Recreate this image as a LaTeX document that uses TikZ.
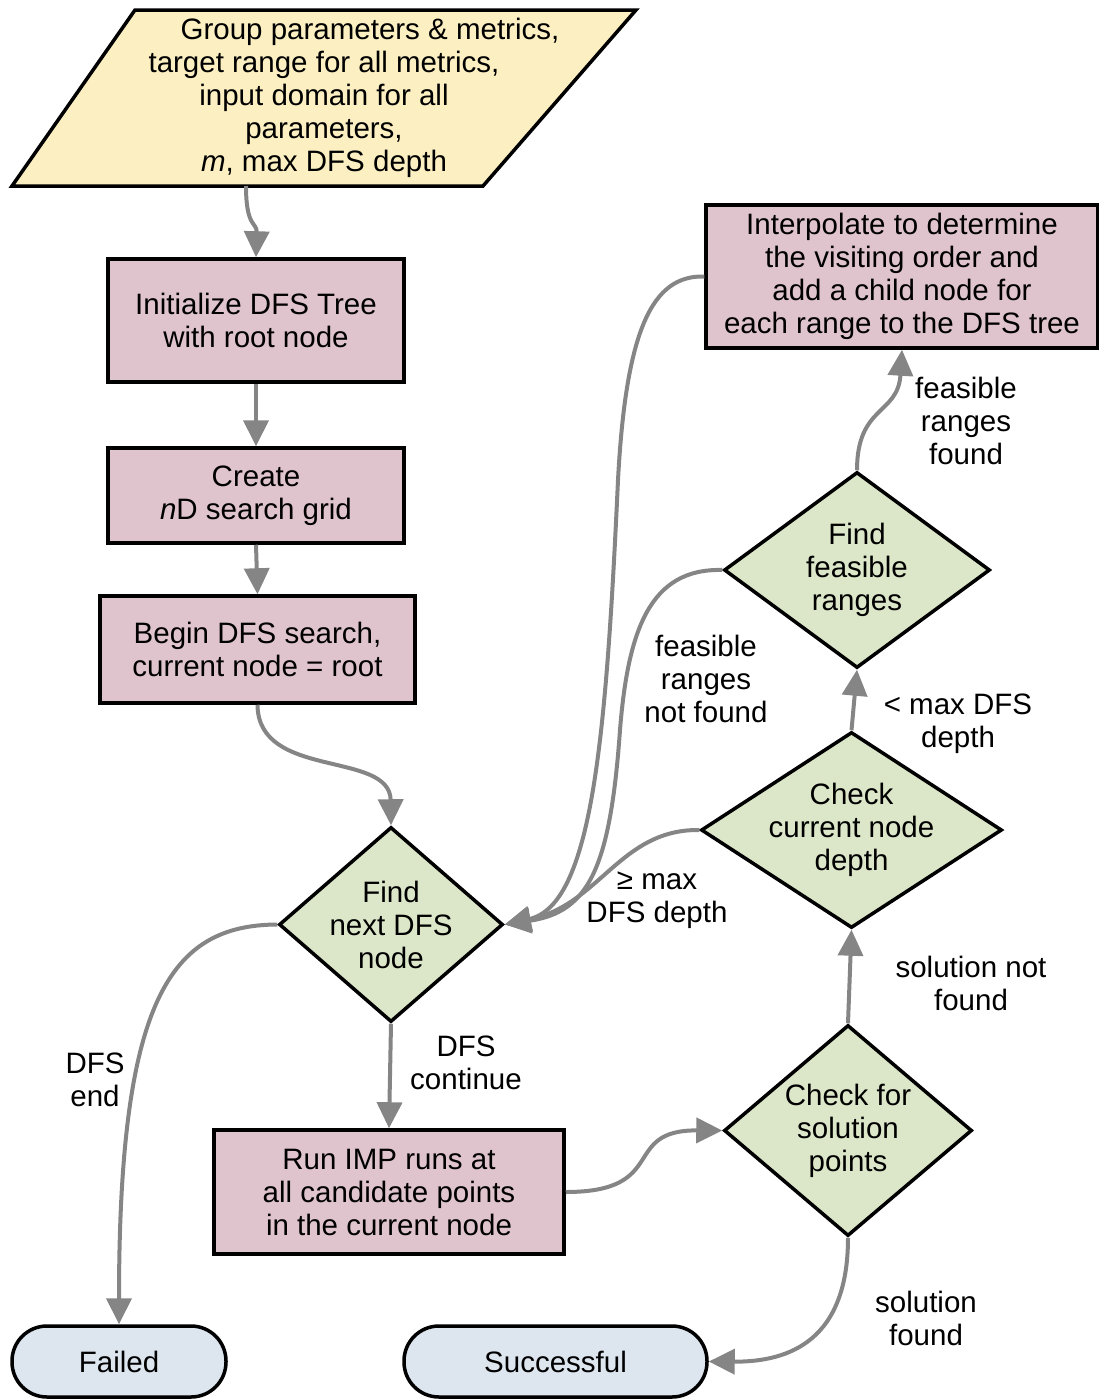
\documentclass[tikz,border=0pt]{standalone}
\usepackage{fontspec}
\setmainfont{Liberation Sans}
\usetikzlibrary{shapes.geometric,arrows.meta}
\definecolor{pinkc}{HTML}{DFC3CD}
\definecolor{greenc}{HTML}{DCE6C8}
\definecolor{bluec}{HTML}{DDE5EF}
\definecolor{yellowc}{HTML}{FCF0C2}
\definecolor{arrgray}{HTML}{858585}
\begin{document}
\begin{tikzpicture}[x=1pt,y=-1pt,
  every node/.style={font=\fontsize{29.5}{33}\selectfont, align=center},
  proc/.style={draw=black, line width=3.5pt, fill=pinkc, inner sep=0pt},
  dec/.style={diamond, draw=black, line width=3.5pt, fill=greenc, inner sep=-30pt},
  term/.style={draw=black, line width=3.5pt, fill=bluec, rounded corners=35pt, inner sep=0pt, minimum height=71pt},
  arr/.style={draw=arrgray, line width=4pt, -{Triangle[length=26pt,width=25pt]}},
  lbl/.style={inner sep=0pt}]
\useasboundingbox (0,0) rectangle (1099,1400);
% input parallelogram
\draw[line width=3.5pt, fill=yellowc] (135,10) -- (636,10) -- (483,186) -- (12,186) -- cycle;
\node[inner sep=0pt] (input) at (324,98) {\hspace*{92pt}Group parameters \& metrics,\\target range for all metrics,\\input domain for all\\parameters,\\\textit{m}, max DFS depth};
\coordinate (inbot) at (246,186);
% process boxes
\node[proc, minimum width=296pt, minimum height=123pt] (init) at (256,320.5) {Initialize DFS Tree\\with root node};
\node[proc, minimum width=296pt, minimum height=95pt] (grid) at (256,495.5) {Create\\\textit{n}D search grid};
\node[proc, minimum width=315pt, minimum height=107pt] (begin) at (257.5,649.5) {Begin DFS search,\\current node = root};
\node[dec, minimum width=224pt, minimum height=195pt] (find) at (391,924.5) {Find\\next DFS\\node};
\node[proc, minimum width=350pt, minimum height=124pt] (run) at (389,1192) {Run IMP runs at\\all candidate points\\in the current node};
\node[term, minimum width=214pt] (failed) at (119,1361.5) {Failed};
\node[term, minimum width=303pt] (succ) at (555.5,1361.5) {Successful};
\node[dec, minimum width=248pt, minimum height=211pt] (chksol) at (848,1130.5) {Check for\\solution\\points};
\node[dec, minimum width=301pt, minimum height=196pt] (chkdep) at (851.5,830) {Check\\current node\\depth};
\node[dec, minimum width=266pt, minimum height=196pt] (feas) at (857,570) {Find\\feasible\\ranges};
\node[proc, minimum width=392pt, minimum height=143pt] (interp) at (902,276.5) {Interpolate to determine\\the visiting order and\\add a child node for\\each range to the DFS tree};
% connectors
\draw[arr] (inbot) .. controls (246,228) and (257,222) .. (init.north);
\draw[arr] (init.south) -- (grid.north);
\draw[arr] (grid.south) -- (begin.north);
\draw[arr] (begin.south) .. controls (258,780) and (390,750) .. (find.north);
\draw[arr] (find.south) -- (run.north);
\draw[arr] (find.west) .. controls (170,925) and (119,1000) .. (failed.north);
\draw[arr] (run.east) .. controls (670,1192) and (620,1130) .. (chksol.west);
\draw[arr] (chksol.south) .. controls (848,1340) and (790,1362) .. (succ.east);
\draw[arr] (chksol.north) -- (chkdep.south);
\draw[arr] (chkdep.north) -- (feas.south);
\draw[arr] (feas.north) .. controls (857,405) and (898,415) .. (interp.south);
\draw[arr] (interp.west) .. controls (652,275) and (626,330) .. (618,480) .. controls (606,740) and (592,905) .. (find.east);
\draw[arr] (feas.west) .. controls (650,568) and (628,630) .. (620,730) .. controls (610,870) and (588,912) .. (find.east);
\draw[arr] (chkdep.west) .. controls (620,829) and (600,905) .. (find.east);
% labels
\node[lbl] (l1) at (95,1080) {DFS\\end};
\node[lbl] (l2) at (466,1063) {DFS\\continue};
\node[lbl] (l3) at (926,1318) {solution\\found};
\node[lbl] (l4) at (971,983) {solution not\\found};
\node[lbl] (l5) at (958,724) {< max DFS\\depth};
\node[lbl] (l6) at (966,421) {feasible\\ranges\\found};
\node[lbl] (l7) at (706,679) {feasible\\ranges\\not found};
\node[lbl] (l8) at (657,900) {≥ max\\DFS depth};
\end{tikzpicture}
\end{document}
